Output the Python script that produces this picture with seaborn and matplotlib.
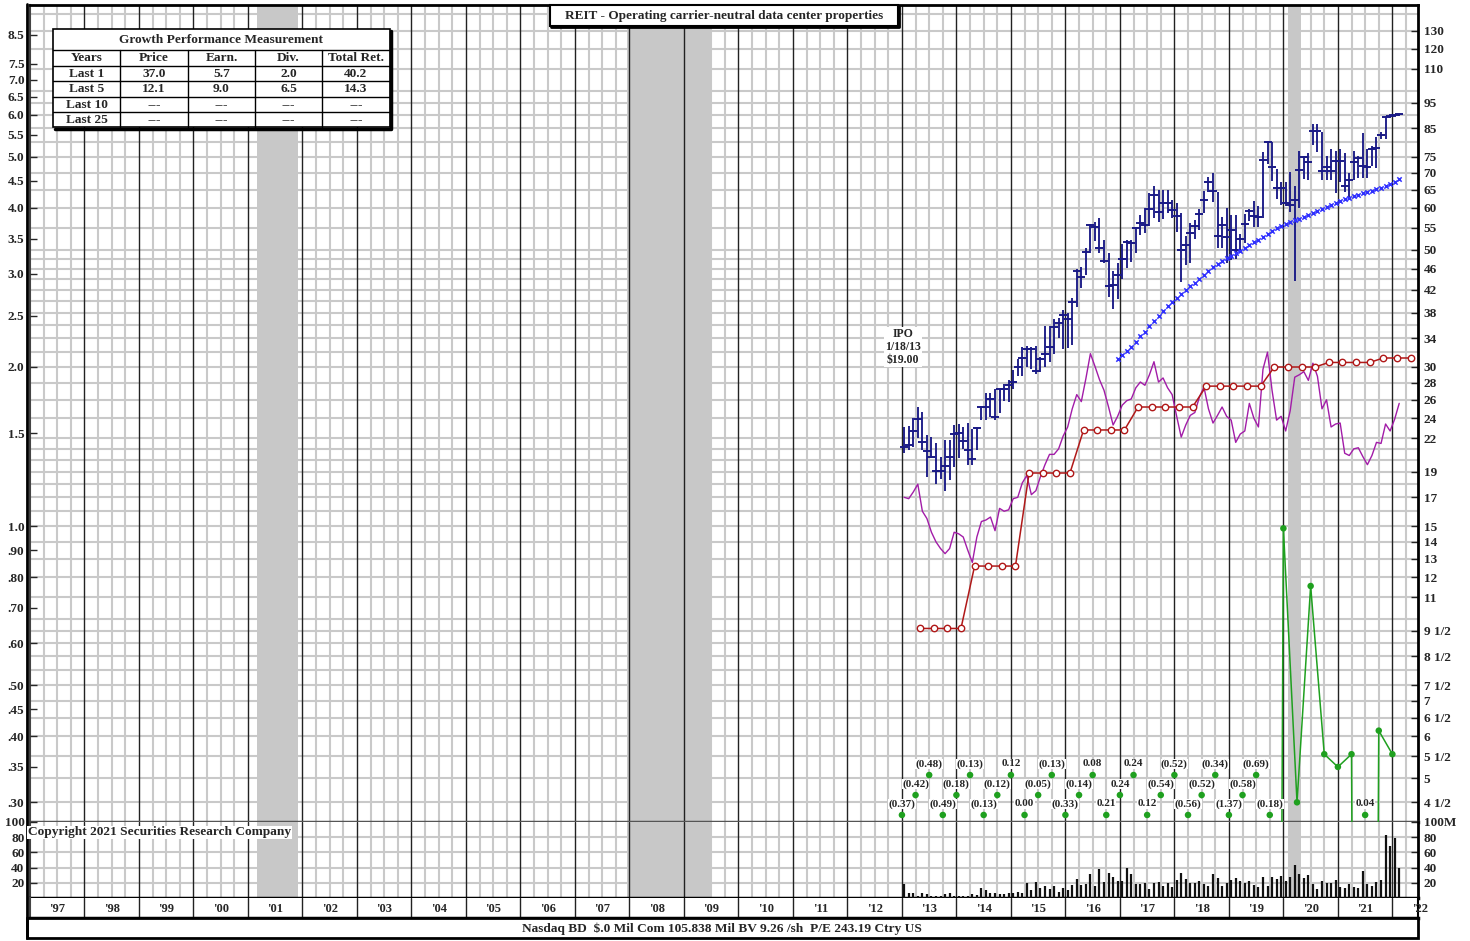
import numpy as np
import matplotlib
matplotlib.use("Agg")
import matplotlib.pyplot as plt
import matplotlib.transforms as mtrans
from matplotlib.patches import Rectangle
from matplotlib.ticker import NullLocator
import seaborn as sns

# ---------------- data ----------------
# monthly bars, Jan 2013 .. Feb 2022
first_month = 2013.0
price_high = [23.1, 23.2, 24.0, 25.2, 24.7, 22.3, 22.1, 21.5, 20.3, 21.8, 21.8, 23.3,
              23.4, 23.1, 23.5, 22.9, 23.1, 25.3, 26.8, 26.8, 27.3, 27.3, 27.8, 28.4,
              29.6, 31.1, 32.7, 32.9, 32.8, 32.9, 31.4, 35.8, 35.8, 37.0, 37.2, 38.4,
              38.0, 40.5, 46.0, 46.3, 50.5, 56.0, 56.4, 57.5, 52.2, 49.3, 45.5, 47.2,
              51.3, 52.2, 52.2, 55.3, 58.2, 60.0, 64.0, 65.9, 65.0, 64.8, 64.8, 62.1,
              61.4, 58.6, 53.0, 56.2, 56.9, 59.6, 64.5, 68.6, 70.0, 64.3, 57.7, 60.1,
              58.1, 58.1, 53.6, 58.4, 59.8, 61.8, 60.5, 76.7, 80.3, 80.0, 71.0, 67.3,
              67.3, 70.2, 66.0, 76.8, 75.3, 76.3, 86.4, 86.6, 83.6, 75.3, 77.5, 76.9,
              77.5, 76.3, 70.0, 76.9, 75.3, 83.0, 77.7, 78.6, 81.6, 83.6, 89.6, 90.4,
              90.4, 90.5]
price_low = [20.6, 20.9, 21.2, 22.0, 20.9, 18.6, 20.2, 18.0, 18.4, 17.5, 18.3, 19.4,
             20.2, 21.0, 19.6, 19.6, 20.9, 23.8, 23.8, 24.1, 23.8, 24.5, 25.9, 25.8,
             27.3, 28.8, 28.9, 30.0, 29.7, 29.1, 29.4, 30.0, 30.6, 31.8, 34.0, 32.4,
             32.6, 33.0, 39.0, 42.3, 44.8, 49.4, 52.0, 49.3, 47.2, 40.7, 38.6, 40.4,
             44.0, 46.1, 47.4, 49.2, 53.4, 53.7, 55.5, 57.5, 56.4, 57.1, 58.6, 57.5,
             54.1, 43.5, 46.8, 47.1, 52.3, 54.6, 58.8, 64.3, 61.5, 50.5, 50.5, 47.3,
             47.8, 48.1, 49.9, 51.5, 56.7, 55.2, 55.2, 57.4, 72.6, 67.6, 62.3, 60.7,
             60.5, 59.0, 43.6, 60.1, 68.0, 67.8, 78.9, 76.5, 67.8, 67.8, 67.8, 63.9,
             67.3, 64.3, 62.2, 67.8, 68.4, 68.4, 68.4, 71.9, 71.4, 81.0, 81.1, 88.8,
             89.0, 89.7]
price_close = [21.2, 21.4, 22.7, 23.9, 21.6, 20.8, 20.3, 19.1, 19.1, 19.5, 20.3, 22.4,
               22.5, 21.7, 20.9, 20.1, 23.0, 25.2, 25.2, 26.1, 24.1, 27.2, 27.3, 27.7,
               28.1, 30.0, 31.2, 32.5, 32.4, 29.5, 31.0, 31.7, 32.8, 35.7, 36.4, 37.6,
               37.0, 39.8, 45.5, 44.5, 49.5, 55.7, 55.1, 50.4, 47.6, 42.7, 42.9, 44.7,
               48.1, 51.7, 51.5, 55.0, 56.2, 55.8, 59.8, 63.6, 58.9, 61.2, 61.3, 59.5,
               57.9, 49.9, 51.1, 53.8, 55.4, 58.4, 62.1, 67.3, 64.6, 53.2, 55.6, 52.8,
               54.6, 49.9, 52.4, 55.9, 59.3, 57.9, 57.7, 73.9, 79.9, 71.6, 65.5, 65.4,
               61.4, 60.8, 62.2, 70.8, 74.8, 73.4, 84.0, 84.0, 70.5, 71.6, 70.5, 73.7,
               73.5, 65.9, 67.8, 73.4, 74.5, 72.0, 71.8, 77.7, 78.0, 82.5, 89.3, 89.6,
               89.8, 90.2]
rel_strength = [17.0, 16.9, 17.4, 18.0, 16.0, 15.5, 14.6, 14.0, 13.6, 13.3, 13.6, 14.6,
                14.5, 14.3, 13.5, 12.8, 14.3, 15.3, 15.4, 15.6, 14.7, 16.2, 16.0, 16.1,
                16.9, 17.0, 18.1, 18.7, 17.2, 17.5, 18.6, 19.6, 20.5, 20.5, 21.0, 22.2,
                23.1, 25.0, 26.6, 25.8, 28.5, 31.8, 30.1, 28.4, 27.1, 25.2, 23.3, 24.2,
                25.4, 25.9, 26.1, 27.4, 28.1, 27.7, 29.0, 30.7, 28.1, 28.6, 27.4, 26.6,
                24.2, 22.1, 23.3, 24.3, 24.6, 26.3, 27.5, 25.0, 23.5, 24.3, 25.2, 24.2,
                23.8, 21.6, 22.4, 22.7, 25.6, 24.0, 23.1, 29.7, 32.0, 27.1, 23.8, 24.2,
                22.7, 24.8, 28.7, 29.0, 29.4, 28.3, 30.5, 28.8, 25.0, 26.0, 23.1, 23.4,
                23.5, 20.6, 20.4, 21.0, 21.1, 20.3, 19.6, 20.4, 21.6, 21.5, 23.4, 22.7,
                23.9, 25.6]
volume_mil = [18, 7, 7, 3, 6, 5, 3, 3, 2, 5, 6, 3,
              3, 3, 3, 5, 4, 13, 11, 7, 6, 5, 5, 6,
              7, 8, 7, 20, 10, 21, 13, 16, 12, 16, 8, 13,
              11, 17, 25, 17, 19, 31, 16, 38, 21, 33, 28, 23,
              23, 40, 32, 19, 19, 20, 12, 20, 21, 16, 20, 15,
              24, 33, 25, 20, 20, 23, 19, 16, 32, 26, 16, 20,
              24, 26, 22, 20, 22, 17, 15, 28, 16, 27, 25, 29,
              23, 28, 44, 31, 26, 30, 19, 12, 23, 20, 20, 24,
              14, 13, 19, 15, 13, 35, 18, 16, 21, 24, 83, 68,
              79, 39]
# moving average, monthly from Dec 2016
ma_start = 2016 + 11 / 12
ma_vals = [31.0, 31.6, 32.2, 32.8, 33.5, 34.3, 35.0, 35.8, 36.7, 37.5, 38.3, 39.1,
           39.9, 40.6, 41.3, 41.9, 42.7, 43.3, 44.0, 44.8, 45.6, 46.3, 47.0, 47.7,
           48.2, 48.7, 49.2, 49.8, 50.5, 51.1, 51.7, 52.2, 52.9, 53.6, 54.3, 54.9,
           55.5, 56.0, 56.4, 56.9, 57.3, 57.8, 58.3, 58.8, 59.3, 59.8, 60.3, 60.9,
           61.4, 61.9, 62.4, 62.7, 63.1, 63.5, 64.0, 64.3, 64.7, 65.1, 65.5, 65.9,
           66.5, 67.3, 68.0]
# dividend rate (left scale), quarterly from May 2013
div_start = 2013 + 4 / 12
div_rate = [0.64, 0.64, 0.64, 0.64, 0.84, 0.84, 0.84, 0.84, 1.26, 1.26, 1.26, 1.26,
            1.52, 1.52, 1.52, 1.52, 1.68, 1.68, 1.68, 1.68, 1.68, 1.84, 1.84, 1.84,
            1.84, 1.84, 2.00, 2.00, 2.00, 2.00, 2.04, 2.04, 2.04, 2.04, 2.08, 2.08, 2.08]
# 12-month earnings (left scale), quarterly from Jan 2013
eps_start = 2013.0
eps_12m = [-0.37, -0.42, -0.48, -0.49, -0.18, -0.13, -0.13, -0.12, 0.12, 0.00,
           -0.05, -0.13, -0.33, -0.14, 0.08, 0.21, 0.24, 0.24, 0.12, -0.54,
           -0.52, -0.56, -0.52, -0.34, -1.37, -0.58, -0.69, -0.18, 0.99, 0.30,
           0.77, 0.37, 0.35, 0.37, 0.04, 0.41, 0.37]
recessions = [(2001.17, 2001.92), (2007.95, 2009.50), (2020.08, 2020.32)]

right_vals = [4.5, 5, 5.5, 6, 6.5, 7, 7.5, 8.5, 9.5, 11, 12, 13, 14, 15, 17, 19, 22, 24,
              26, 28, 30, 34, 38, 42, 46, 50, 55, 60, 65, 70, 75, 85, 95, 110, 120, 130]
right_labels = ["4 1/2", "5", "5 1/2", "6", "6 1/2", "7", "7 1/2", "8 1/2", "9 1/2",
                "11", "12", "13", "14", "15", "17", "19", "22", "24", "26", "28", "30",
                "34", "38", "42", "46", "50", "55", "60", "65", "70", "75", "85", "95",
                "110", "120", "130"]
left_vals = [0.30, 0.35, 0.40, 0.45, 0.50, 0.60, 0.70, 0.80, 0.90, 1.0, 1.5, 2.0, 2.5,
             3.0, 3.5, 4.0, 4.5, 5.0, 5.5, 6.0, 6.5, 7.0, 7.5, 8.5]
left_labels = [".30", ".35", ".40", ".45", ".50", ".60", ".70", ".80", ".90", "1.0",
               "1.5", "2.0", "2.5", "3.0", "3.5", "4.0", "4.5", "5.0", "5.5", "6.0",
               "6.5", "7.0", "7.5", "8.5"]
grid_levels = [4.5, 5, 5.5, 6, 6.5, 7, 7.5, 8, 8.5, 9, 9.5, 10, 11, 12, 13, 14, 15, 16,
               17, 18, 19, 20, 21, 22, 24, 26, 28, 30, 32, 34, 36, 38, 40, 42, 44, 46,
               48, 50, 55, 60, 65, 70, 75, 80, 85, 90, 95, 100, 110, 120, 130, 140]
vol_ticks = [20, 40, 60, 80, 100]
year_labels = ["'%02d" % (y % 100) for y in range(1997, 2023)]

growth_header = ["Years", "Price", "Earn.", "Div.", "Total Ret."]
growth_rows = [["Last 1", "37.0", "5.7", "2.0", "40.2"],
               ["Last 5", "12.1", "9.0", "6.5", "14.3"],
               ["Last 10", "---", "---", "---", "---"],
               ["Last 25", "---", "---", "---", "---"]]

# ---------------- style ----------------
SCALE = 15          # right (price) scale = left scale * 15
YLO, YHI = 4.13, 145.3
XL = (1997.0, 2022.47)
NAVY = "#1a1a86"
MAG = "#a21ca8"
RED = "#b01818"
GREEN = "#1fa01f"
XBLUE = "#3030ff"
LIGHT = "#c9c9c9"
TICK_FS = 9.5

sns.set_style("white")
plt.rcParams["font.family"] = ["Liberation Serif", "DejaVu Serif"]
plt.rcParams["font.weight"] = "bold"

W, H = 1470, 941
fig = plt.figure(figsize=(W / 100, H / 100), dpi=100)


def box(x0, y0, x1, y1):
    return [x0 / W, 1 - y1 / H, (x1 - x0) / W, (y1 - y0) / H]


ax = fig.add_axes(box(30, 5, 1418, 822))
axv = fig.add_axes(box(30, 822, 1418, 898))
axs = fig.add_axes(box(30, 898, 1418, 918))

ax.set_yscale("log")
ax.set_ylim(YLO, YHI)
for a in (ax, axv, axs):
    a.set_xlim(*XL)
    a.set_xticks([])

# grid
quarters = np.arange(1997.25, 2022.5, 0.25)
years = np.arange(1998, 2023)
for a in (ax, axv):
    for q in quarters:
        if q % 1:
            a.axvline(q, color=LIGHT, lw=1.5, zorder=0.3)
    for y in years:
        a.axvline(y, color="#222222", lw=1.0, zorder=0.9)
    for r0, r1 in recessions:
        a.axvspan(r0, r1, color="#c8c8c8", lw=0, zorder=0.8)
for g in grid_levels:
    ax.axhline(g, color=LIGHT, lw=1.5, zorder=0.3)
for v in vol_ticks[:-1]:
    axv.axhline(v, color=LIGHT, lw=1.5, zorder=0.3)
for y in years:
    axs.axvline(y, color="#222222", lw=1.0)

# ---------------- series ----------------
xm = first_month + (np.arange(len(price_close)) + 0.5) / 12
ax.vlines(xm, price_low, price_high, color=NAVY, lw=1.35, zorder=4)
ax.plot(xm, price_close, ls="none", marker="_", ms=5.5, mew=1.4, color=NAVY, zorder=4)

sns.lineplot(x=xm, y=rel_strength, ax=ax, color=MAG, lw=1.0, estimator=None,
             sort=False, zorder=3)

xma = ma_start + (np.arange(len(ma_vals)) + 0.5) / 12
sns.scatterplot(x=xma, y=ma_vals, ax=ax, marker="x", color=XBLUE, s=10,
                linewidth=1.1, zorder=4)

xd = div_start + 0.25 * np.arange(len(div_rate))
sns.lineplot(x=xd, y=np.array(div_rate) * SCALE, ax=ax, color=RED, lw=1.1,
             estimator=None, sort=False, marker="o", markersize=4.6,
             markerfacecolor="white", markeredgecolor=RED, markeredgewidth=1.0,
             zorder=5)

xe = eps_start + 0.25 * np.arange(len(eps_12m))
eps_scaled = np.array(eps_12m) * SCALE
vis = eps_scaled >= YLO * 1.02
line_y = np.where(vis, eps_scaled, 1e-4)
sns.lineplot(x=xe, y=line_y, ax=ax, color=GREEN, lw=1.1, estimator=None,
             sort=False, zorder=5)
sns.scatterplot(x=xe[vis], y=eps_scaled[vis], ax=ax, color=GREEN, s=22,
                edgecolor="none", zorder=6)

# off-scale earnings, staggered in three rows at the bottom
trans = mtrans.blended_transform_factory(ax.transData, ax.transAxes)
row_y = [0.0086, 0.0330, 0.0575]
k = 0
for x, v, ok in zip(xe, eps_12m, vis):
    if ok:
        k = 0
        continue
    ry = row_y[k % 3]
    k += 1
    ax.scatter([x], [ry], transform=trans, s=22, color=GREEN, edgecolor="none",
               zorder=7, clip_on=False)
    lab = "(%.2f)" % -v if v < 0 else "%.2f" % v
    ax.text(x, ry + 0.0135, lab, transform=trans, ha="center", va="center",
            fontsize=8, zorder=7,
            bbox=dict(facecolor="white", edgecolor="none", pad=0.3))

axv.vlines(xm, 0, volume_mil, color="#111111", lw=1.6, zorder=4)
axv.set_ylim(0, 100)

# ---------------- axes / ticks ----------------
axl = ax.twinx()
axl.set_yscale("log")
axl.set_ylim(YLO / SCALE, YHI / SCALE)
axl.yaxis.tick_left()
axl.set_yticks(left_vals, left_labels)
axl.yaxis.set_minor_locator(NullLocator())
axl.tick_params(axis="y", direction="in", length=5, width=1, pad=4, labelsize=TICK_FS)

ax.yaxis.tick_right()
ax.set_yticks(right_vals, right_labels)
ax.yaxis.set_minor_locator(NullLocator())
ax.tick_params(axis="y", direction="in", length=5, width=1, pad=4, labelsize=TICK_FS)

axvl = axv.twinx()
axvl.set_ylim(0, 100)
axvl.yaxis.tick_left()
axvl.set_yticks(vol_ticks, ["20", "40", "60", "80", "100"])
axvl.tick_params(axis="y", direction="in", length=5, width=1, pad=4, labelsize=TICK_FS)

axv.yaxis.tick_right()
axv.set_yticks(vol_ticks, ["20", "40", "60", "80", "100M"])
axv.tick_params(axis="y", direction="in", length=5, width=1, pad=4, labelsize=TICK_FS)

for a in (axl, axvl):
    for s in a.spines.values():
        s.set_visible(False)

ax.spines["top"].set(color="black", lw=2)
ax.spines["right"].set(color="black", lw=2)
ax.spines["left"].set(color="#444444", lw=1.5)
ax.spines["bottom"].set(color="#555555", lw=2.5)
axv.spines["top"].set_visible(False)
axv.spines["right"].set(color="black", lw=2)
axv.spines["left"].set(color="#444444", lw=1.5)
axv.spines["bottom"].set(color="black", lw=2.5)
axs.set_yticks([])
axs.set_ylim(0, 1)
axs.spines["top"].set_visible(False)
axs.spines["right"].set(color="black", lw=1.5)
axs.spines["left"].set(color="#444444", lw=1.5)
axs.spines["bottom"].set(color="black", lw=2.5)
for y, lab in zip(range(1997, 2023), year_labels):
    axs.text(y + 0.5, 0.45, lab, ha="center", va="center", fontsize=9, clip_on=False)

# ---------------- overlay: boxes and text ----------------
ov = fig.add_axes([0, 0, 1, 1], zorder=20)
ov.set_xlim(0, W)
ov.set_ylim(H, 0)
ov.axis("off")
ov.patch.set_alpha(0)

ov.plot([27, 27], [4, 938], color="black", lw=2)
ov.add_patch(Rectangle((27, 918), 1391, 20, facecolor="white", edgecolor="black", lw=2))
ov.text(722, 928.5, "Nasdaq BD  $.0 Mil Com 105.838 Mil BV 9.26 /sh  P/E 243.19 Ctry US",
        ha="center", va="center", fontsize=9.6)

ov.add_patch(Rectangle((550, 5), 348, 21, facecolor="white", edgecolor="black", lw=1.5))
ov.plot([551, 899, 899], [27, 27, 6], color="black", lw=2)
ov.text(724, 16, "REIT - Operating carrier-neutral data center properties",
        ha="center", va="center", fontsize=9.5)

# growth table
ov.add_patch(Rectangle((53, 29), 337, 98, facecolor="white", edgecolor="black", lw=1.2))
ov.plot([55, 391.5, 391.5], [128.5, 128.5, 31], color="black", lw=2.5)
ov.text(221.5, 40, "Growth Performance Measurement", ha="center", va="center", fontsize=9.6)
row_edges = [50, 65.5, 81, 96.5, 112, 127]
col_edges = [53, 120, 188, 255, 322, 390]
for yy in row_edges[:-1]:
    ov.plot([53, 390], [yy, yy], color="black", lw=1)
for xx in col_edges[1:-1]:
    ov.plot([xx, xx], [50, 127], color="black", lw=1)
for r, cells in enumerate([growth_header] + growth_rows):
    yc = (row_edges[r] + row_edges[r + 1]) / 2
    for c, txt in enumerate(cells):
        xc = (col_edges[c] + col_edges[c + 1]) / 2
        ov.text(xc, yc + 0.5, txt, ha="center", va="center", fontsize=9.6)

ov.text(903, 347, "IPO\n1/18/13\n$19.00", ha="center", va="center", fontsize=8.5,
        linespacing=1.1, bbox=dict(facecolor="white", edgecolor="none", pad=1))
ov.text(28, 832.5, "Copyright 2021 Securities Research Company", ha="left", va="center",
        fontsize=9.6, bbox=dict(facecolor="white", edgecolor="none", pad=0.5))

fig.savefig("out.png", dpi=100)
